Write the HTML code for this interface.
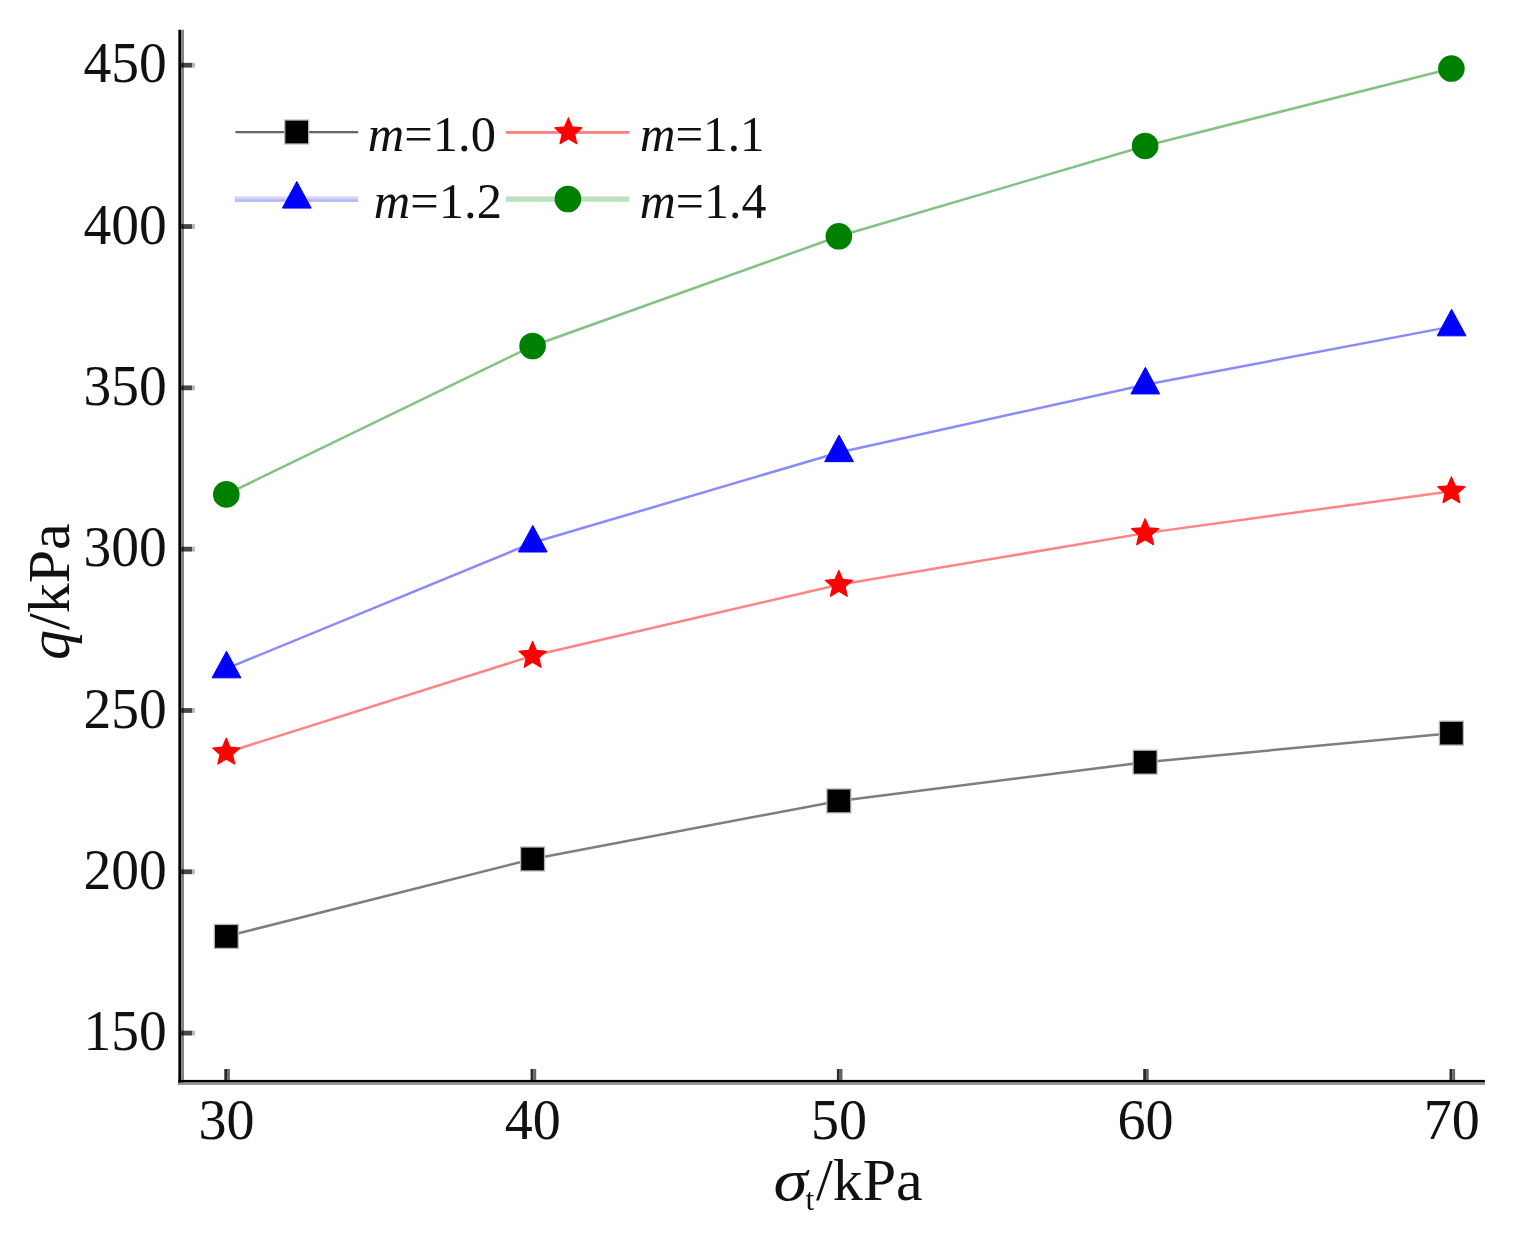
<!DOCTYPE html>
<html lang="en"><head><meta charset="utf-8"><title>q/kPa versus σt/kPa</title>
<style>html,body{margin:0;padding:0;background:#fff}svg{display:block}text{font-family:"Liberation Serif",serif;fill:#111}</style></head><body>
<svg width="1517" height="1236" viewBox="0 0 1517 1236">
<rect width="1517" height="1236" fill="#fff"/>
<polyline points="226.30,936.41 532.58,858.98 838.85,800.90 1145.13,762.19 1451.40,733.15" fill="none" stroke="#7e7e7e" stroke-width="2.5"/>
<polyline points="226.30,752.51 532.58,655.72 838.85,584.74 1145.13,533.12 1451.40,491.18" fill="none" stroke="#ff8484" stroke-width="2.5"/>
<polyline points="226.30,668.62 532.58,542.80 838.85,452.46 1145.13,384.71 1451.40,326.63" fill="none" stroke="#8a8aff" stroke-width="2.5"/>
<polyline points="226.30,494.40 532.58,345.99 838.85,236.30 1145.13,145.96 1451.40,68.53" fill="none" stroke="#84c284" stroke-width="2.5"/>
<rect x="215.00" y="925.11" width="22.6" height="22.6" fill="#000000" stroke="#b4b4b4" stroke-width="2.6" paint-order="stroke"/>
<rect x="521.28" y="847.68" width="22.6" height="22.6" fill="#000000" stroke="#b4b4b4" stroke-width="2.6" paint-order="stroke"/>
<rect x="827.55" y="789.60" width="22.6" height="22.6" fill="#000000" stroke="#b4b4b4" stroke-width="2.6" paint-order="stroke"/>
<rect x="1133.83" y="750.89" width="22.6" height="22.6" fill="#000000" stroke="#b4b4b4" stroke-width="2.6" paint-order="stroke"/>
<rect x="1440.10" y="721.85" width="22.6" height="22.6" fill="#000000" stroke="#b4b4b4" stroke-width="2.6" paint-order="stroke"/>
<polygon points="226.30,738.21 230.17,747.19 239.90,748.09 232.56,754.54 234.71,764.08 226.30,759.09 217.89,764.08 220.04,754.54 212.70,748.09 222.43,747.19" fill="#ff0000" stroke="#ff0000" stroke-width="1.2" stroke-linejoin="round"/>
<polygon points="532.58,641.42 536.44,650.40 546.18,651.30 538.83,657.75 540.98,667.29 532.58,662.30 524.17,667.29 526.32,657.75 518.97,651.30 528.71,650.40" fill="#ff0000" stroke="#ff0000" stroke-width="1.2" stroke-linejoin="round"/>
<polygon points="838.85,570.44 842.72,579.42 852.45,580.32 845.11,586.77 847.26,596.31 838.85,591.32 830.44,596.31 832.59,586.77 825.25,580.32 834.98,579.42" fill="#ff0000" stroke="#ff0000" stroke-width="1.2" stroke-linejoin="round"/>
<polygon points="1145.13,518.82 1148.99,527.80 1158.73,528.70 1151.38,535.15 1153.53,544.69 1145.13,539.70 1136.72,544.69 1138.87,535.15 1131.52,528.70 1141.26,527.80" fill="#ff0000" stroke="#ff0000" stroke-width="1.2" stroke-linejoin="round"/>
<polygon points="1451.40,476.88 1455.27,485.85 1465.00,486.76 1457.66,493.21 1459.81,502.74 1451.40,497.75 1442.99,502.74 1445.14,493.21 1437.80,486.76 1447.53,485.85" fill="#ff0000" stroke="#ff0000" stroke-width="1.2" stroke-linejoin="round"/>
<polygon points="226.50,651.22 240.90,677.82 212.10,677.82" fill="#0000ff" stroke="#0000ff" stroke-width="1" stroke-linejoin="round"/>
<polygon points="532.78,525.40 547.18,552.00 518.38,552.00" fill="#0000ff" stroke="#0000ff" stroke-width="1" stroke-linejoin="round"/>
<polygon points="839.05,435.06 853.45,461.66 824.65,461.66" fill="#0000ff" stroke="#0000ff" stroke-width="1" stroke-linejoin="round"/>
<polygon points="1145.33,367.31 1159.73,393.91 1130.93,393.91" fill="#0000ff" stroke="#0000ff" stroke-width="1" stroke-linejoin="round"/>
<polygon points="1451.60,309.23 1466.00,335.83 1437.20,335.83" fill="#0000ff" stroke="#0000ff" stroke-width="1" stroke-linejoin="round"/>
<circle cx="226.30" cy="494.40" r="13.3" fill="#008000"/>
<circle cx="532.58" cy="345.99" r="13.3" fill="#008000"/>
<circle cx="838.85" cy="236.30" r="13.3" fill="#008000"/>
<circle cx="1145.13" cy="145.96" r="13.3" fill="#008000"/>
<circle cx="1451.40" cy="68.53" r="13.3" fill="#008000"/>
<rect x="178.35" y="29.8" width="2.8" height="1055.2" fill="#000"/>
<rect x="181.15" y="29.8" width="2.8" height="1055.2" fill="#808080"/>
<rect x="178.35" y="1079.9" width="1306.5" height="2.7" fill="#000"/>
<rect x="178.35" y="1082.6" width="1306.5" height="2.4" fill="#999"/>
<rect x="181.15" y="1030.70" width="2.8" height="4.8" fill="#222"/>
<rect x="183.95" y="1030.70" width="8.1" height="4.8" fill="#484848"/>
<rect x="192.05" y="1030.70" width="2.8" height="4.8" fill="#b4b4b4"/>
<text transform="translate(166.8,1050.20) scale(0.965,1)" font-size="57.5" text-anchor="end">150</text>
<rect x="181.15" y="869.38" width="2.8" height="4.8" fill="#222"/>
<rect x="183.95" y="869.38" width="8.1" height="4.8" fill="#484848"/>
<rect x="192.05" y="869.38" width="2.8" height="4.8" fill="#b4b4b4"/>
<text transform="translate(166.8,888.88) scale(0.965,1)" font-size="57.5" text-anchor="end">200</text>
<rect x="181.15" y="708.07" width="2.8" height="4.8" fill="#222"/>
<rect x="183.95" y="708.07" width="8.1" height="4.8" fill="#484848"/>
<rect x="192.05" y="708.07" width="2.8" height="4.8" fill="#b4b4b4"/>
<text transform="translate(166.8,727.57) scale(0.965,1)" font-size="57.5" text-anchor="end">250</text>
<rect x="181.15" y="546.75" width="2.8" height="4.8" fill="#222"/>
<rect x="183.95" y="546.75" width="8.1" height="4.8" fill="#484848"/>
<rect x="192.05" y="546.75" width="2.8" height="4.8" fill="#b4b4b4"/>
<text transform="translate(166.8,566.25) scale(0.965,1)" font-size="57.5" text-anchor="end">300</text>
<rect x="181.15" y="385.43" width="2.8" height="4.8" fill="#222"/>
<rect x="183.95" y="385.43" width="8.1" height="4.8" fill="#484848"/>
<rect x="192.05" y="385.43" width="2.8" height="4.8" fill="#b4b4b4"/>
<text transform="translate(166.8,404.93) scale(0.965,1)" font-size="57.5" text-anchor="end">350</text>
<rect x="181.15" y="224.12" width="2.8" height="4.8" fill="#222"/>
<rect x="183.95" y="224.12" width="8.1" height="4.8" fill="#484848"/>
<rect x="192.05" y="224.12" width="2.8" height="4.8" fill="#b4b4b4"/>
<text transform="translate(166.8,243.62) scale(0.965,1)" font-size="57.5" text-anchor="end">400</text>
<rect x="181.15" y="62.80" width="2.8" height="4.8" fill="#222"/>
<rect x="183.95" y="62.80" width="8.1" height="4.8" fill="#484848"/>
<rect x="192.05" y="62.80" width="2.8" height="4.8" fill="#b4b4b4"/>
<text transform="translate(166.8,82.30) scale(0.965,1)" font-size="57.5" text-anchor="end">450</text>
<rect x="224.30" y="1069" width="2.8" height="11" fill="#2a2a2a"/>
<rect x="227.10" y="1069" width="2.8" height="11" fill="#666"/>
<text transform="translate(226.50,1139.2) scale(0.975,1)" font-size="57.5" text-anchor="middle">30</text>
<rect x="530.60" y="1069" width="2.8" height="11" fill="#2a2a2a"/>
<rect x="533.40" y="1069" width="2.8" height="11" fill="#666"/>
<text transform="translate(532.80,1139.2) scale(0.975,1)" font-size="57.5" text-anchor="middle">40</text>
<rect x="836.90" y="1069" width="2.8" height="11" fill="#2a2a2a"/>
<rect x="839.70" y="1069" width="2.8" height="11" fill="#666"/>
<text transform="translate(839.10,1139.2) scale(0.975,1)" font-size="57.5" text-anchor="middle">50</text>
<rect x="1143.20" y="1069" width="2.8" height="11" fill="#2a2a2a"/>
<rect x="1146.00" y="1069" width="2.8" height="11" fill="#666"/>
<text transform="translate(1145.40,1139.2) scale(0.975,1)" font-size="57.5" text-anchor="middle">60</text>
<rect x="1449.50" y="1069" width="2.8" height="11" fill="#2a2a2a"/>
<rect x="1452.30" y="1069" width="2.8" height="11" fill="#666"/>
<text transform="translate(1451.70,1139.2) scale(0.975,1)" font-size="57.5" text-anchor="middle">70</text>
<text transform="translate(68.5,660) rotate(-90)" font-size="60"><tspan font-style="italic">q</tspan>/kPa</text>
<text transform="translate(773.6,1199.8) scale(1.15,0.97)" font-size="60" font-style="italic">σ</text>
<text x="805.6" y="1209.8" font-size="31.5">t</text>
<text x="816" y="1199.5" font-size="60">/kPa</text>
<rect x="235.4" y="131" width="122.8" height="2.3" fill="#666"/>
<rect x="285.40" y="120.70" width="22.6" height="22.6" fill="#000" stroke="#b4b4b4" stroke-width="2.6" paint-order="stroke"/>
<text x="367.8" y="150.9" font-size="50.5"><tspan font-style="italic">m</tspan>=1.0</text>
<rect x="505.8" y="131" width="123.6" height="2.9" fill="#ff8282"/>
<polygon points="568.40,117.90 572.27,126.88 582.00,127.78 574.66,134.23 576.81,143.77 568.40,138.78 559.99,143.77 562.14,134.23 554.80,127.78 564.53,126.88" fill="#f00" stroke="#f00" stroke-width="1.2" stroke-linejoin="round"/>
<text transform="translate(640,150.9) scale(0.972,1)" font-size="50.5"><tspan font-style="italic">m</tspan>=1.1</text>
<rect x="234.8" y="196.3" width="123.4" height="2.8" fill="#d6d6fb"/>
<rect x="234.8" y="199.1" width="123.4" height="2.8" fill="#b8b8fc"/>
<polygon points="296.80,181.50 311.20,208.10 282.40,208.10" fill="#00f" stroke="#00f" stroke-width="1" stroke-linejoin="round"/>
<text x="373.8" y="217.5" font-size="50.5"><tspan font-style="italic">m</tspan>=1.2</text>
<rect x="505.8" y="196.4" width="123.6" height="5.4" fill="#bfe0bf"/>
<circle cx="567.90" cy="199.00" r="13.3" fill="#008000"/>
<text transform="translate(639.8,217.5) scale(0.988,1)" font-size="50.5"><tspan font-style="italic">m</tspan>=1.4</text>
</svg></body></html>
